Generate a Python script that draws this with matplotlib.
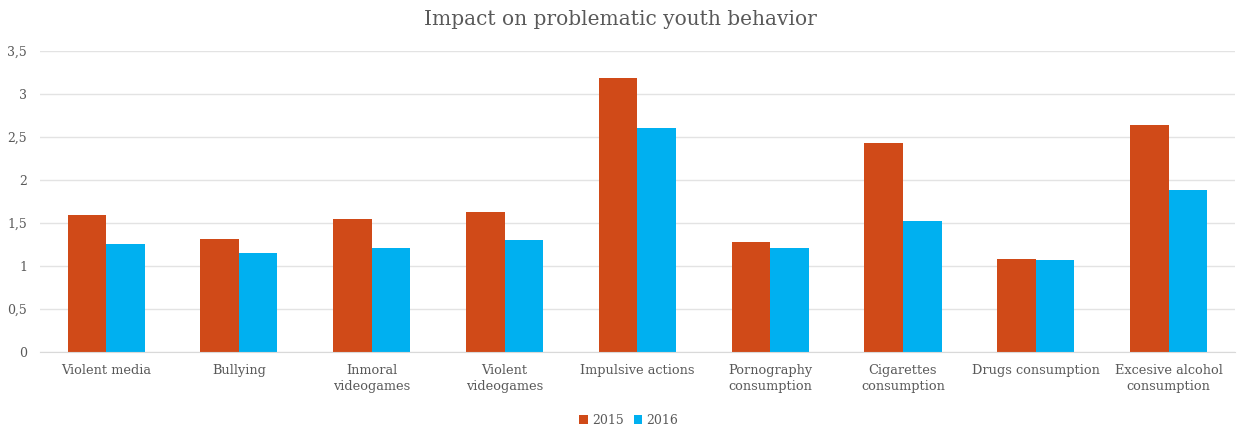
import matplotlib
matplotlib.use("Agg")
import matplotlib.pyplot as plt
import numpy as np

categories = ["Violent media", "Bullying", "Inmoral\nvideogames", "Violent\nvideogames",
              "Impulsive actions", "Pornography\nconsumption", "Cigarettes\nconsumption",
              "Drugs consumption", "Excesive alcohol\nconsumption"]
v2015 = [1.59, 1.31, 1.55, 1.63, 3.19, 1.28, 2.43, 1.08, 2.64]
v2016 = [1.26, 1.15, 1.21, 1.30, 2.60, 1.21, 1.52, 1.07, 1.88]
yticks = [0, 0.5, 1, 1.5, 2, 2.5, 3, 3.5]
ytick_labels = ["0", "0,5", "1", "1,5", "2", "2,5", "3", "3,5"]

ORANGE = "#d04a18"
BLUE = "#00b0f0"
GRAY = "#595959"
GRID = "#e3e3e3"

plt.rcParams["font.family"] = ["DejaVu Serif"]

fig = plt.figure(figsize=(12.4, 4.29), dpi=100)
ax = fig.add_axes([0.032, 0.1795, 0.964, 0.7015])

x = np.arange(len(categories))
w = 0.29
ax.bar(x - w / 2, v2015, width=w, color=ORANGE, label="2015")
ax.bar(x + w / 2, v2016, width=w, color=BLUE, label="2016")

ax.set_xlim(-0.5, len(categories) - 0.5)
ax.set_ylim(0, 3.5)
ax.set_yticks(yticks)
ax.set_yticklabels(ytick_labels)
ax.set_xticks(x)
ax.set_xticklabels(categories, linespacing=1.25)
ax.tick_params(length=0, colors=GRAY)
ax.tick_params(axis="x", labelsize=9.3, pad=9)
ax.tick_params(axis="y", labelsize=9, pad=9)
ax.yaxis.grid(True, color=GRID, lw=1)
ax.set_axisbelow(True)
for s in ("top", "right", "left"):
    ax.spines[s].set_visible(False)
ax.spines["bottom"].set_color("#d9d9d9")

fig.text(0.5, 0.955, "Impact on problematic youth behavior", ha="center", va="center",
         fontsize=14.5, color=GRAY)
fig.legend(loc="center", bbox_to_anchor=(0.507, 0.02), ncol=2, frameon=False,
           fontsize=9, handlelength=0.7, handleheight=0.7, handletextpad=0.3,
           columnspacing=0.8, labelcolor=GRAY)

fig.savefig("out.png", dpi=100)
